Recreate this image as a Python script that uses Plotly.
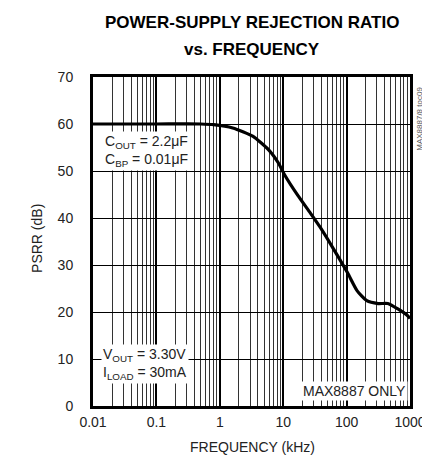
import plotly.graph_objects as go

# ---- data ----
freq_khz = [0.01, 0.1, 0.5, 0.8, 1.6, 3.3, 5.9, 8.4, 10.5, 17, 27, 38, 61, 103, 147, 208, 314, 446, 634, 900, 1000]
psrr_db = [60.0, 60.0, 60.0, 59.85, 59.15, 57.4, 54.5, 51.7, 49.2, 44.8, 41.0, 38.1, 33.6, 28.4, 24.5, 22.4, 21.8, 21.8, 20.7, 19.3, 18.6]
x_major = [0.01, 0.1, 1, 10, 100, 1000]
x_major_labels = ["0.01", "0.1", "1", "10", "100", "1000"]
y_ticks = [0, 10, 20, 30, 40, 50, 60, 70]
minor_vals = [d * m for d in [0.01, 0.1, 1, 10, 100] for m in range(2, 10)]

FONT = "Liberation Sans, Arial, sans-serif"
TXT = "#222"

fig = go.Figure()
fig.add_trace(go.Scatter(x=freq_khz, y=psrr_db, mode="lines",
                         line=dict(color="black", width=3.2, shape="spline", smoothing=0.6),
                         showlegend=False, hoverinfo="skip"))
fig.add_trace(go.Scatter(x=x_major, y=[None] * len(x_major), xaxis="x2", mode="lines",
                         showlegend=False, hoverinfo="skip"))

fig.update_layout(
    width=430, height=457,
    margin=dict(l=85, r=17, t=69, b=59),
    paper_bgcolor="white", plot_bgcolor="white",
    font=dict(family=FONT, color=TXT, size=14),
    xaxis=dict(type="log", range=[-2, 3], tickvals=minor_vals, showticklabels=False,
               showgrid=True, gridcolor="#333", gridwidth=1, ticks="", zeroline=False,
               showline=True, linecolor="black", linewidth=3, mirror=True),
    xaxis2=dict(type="log", range=[-2, 3], overlaying="x", side="bottom", anchor="y",
                tickvals=x_major, ticktext=x_major_labels, showgrid=True,
                gridcolor="black", gridwidth=2, ticks="", showline=False,
                tickfont=dict(size=14, color=TXT), ticklabelstandoff=6),
    yaxis=dict(range=[0, 70], tickvals=y_ticks, showgrid=True, gridcolor="black",
               gridwidth=1, ticks="", zeroline=False, showline=True,
               linecolor="black", linewidth=3, mirror=True,
               tickfont=dict(size=14, color=TXT), ticklabelstandoff=14),
)

# title
fig.add_annotation(xref="paper", yref="paper", x=(250 - 85) / 328, y=(398 - 14) / 329,
                   xanchor="center", yanchor="middle", showarrow=False,
                   text="<b>POWER-SUPPLY REJECTION RATIO</b>",
                   font=dict(family=FONT, size=17, color="black"))
fig.add_annotation(xref="paper", yref="paper", x=(250 - 85) / 328, y=(398 - 41) / 329,
                   xanchor="center", yanchor="middle", showarrow=False,
                   text="<b>vs. FREQUENCY</b>",
                   font=dict(family=FONT, size=17, color="black"))
# axis titles
fig.add_annotation(xref="paper", yref="paper", x=(250 - 85) / 328, y=(398 - 439) / 329,
                   xanchor="center", yanchor="middle", showarrow=False,
                   text="FREQUENCY (kHz)", font=dict(size=14, color=TXT))
fig.add_annotation(xref="paper", yref="paper", x=(27 - 85) / 328, y=(398 - 230) / 329,
                   xanchor="center", yanchor="middle", showarrow=False, textangle=-90,
                   text="PSRR (dB)", font=dict(size=14, color=TXT))

# text boxes
fig.add_annotation(xref="paper", yref="paper", x=0.03, y=0.836, xanchor="left", yanchor="top",
                   text="C<sub>OUT</sub> = 2.2μF<br>C<sub>BP</sub> = 0.01μF", showarrow=False,
                   align="left", bgcolor="white", font=dict(size=14, color=TXT), borderpad=1)
fig.add_annotation(xref="paper", yref="paper", x=0.024, y=0.188, xanchor="left", yanchor="top",
                   text="V<sub>OUT</sub> = 3.30V<br>I<sub>LOAD</sub> = 30mA", showarrow=False,
                   align="left", bgcolor="white", font=dict(size=14, color=TXT), borderpad=1)
fig.add_annotation(xref="paper", yref="paper", x=0.994, y=0.015, xanchor="right", yanchor="bottom",
                   text="MAX8887 ONLY", showarrow=False,
                   bgcolor="white", font=dict(size=14, color=TXT), borderpad=1)
fig.add_annotation(xref="paper", yref="paper", x=1.03, y=0.975, xanchor="center", yanchor="top",
                   text="MAX8887/8 toc09", showarrow=False, textangle=-90,
                   font=dict(size=8, color="#555"))

fig.write_html("out.html")
